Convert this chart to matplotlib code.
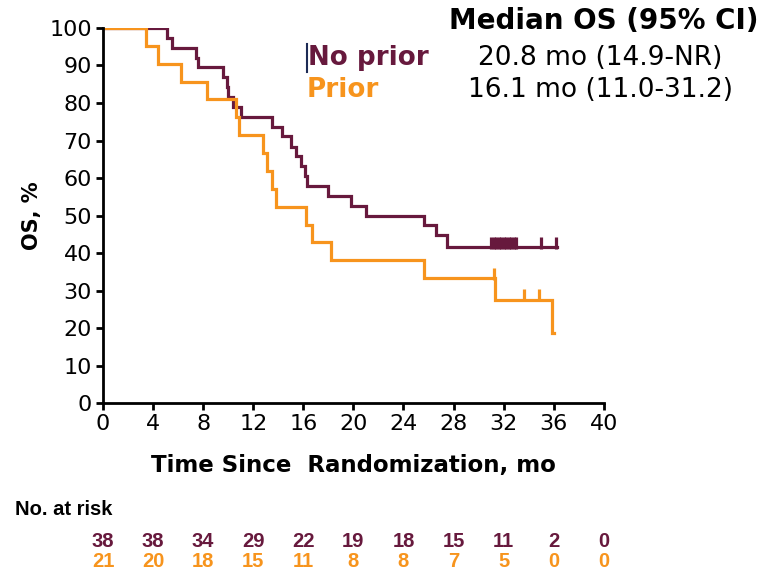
import matplotlib.pyplot as plt
from matplotlib.lines import Line2D
from matplotlib.transforms import blended_transform_factory

plt.rcParams['font.family'] = ['DejaVu Sans']

maroon = '#67193d'
orange = '#f7941d'

# No prior arm (KM steps)
np_t = [0, 5.1, 5.5, 7.4, 7.6, 9.6, 9.9, 10.0, 10.4, 11.0, 13.5, 14.3, 15.0, 15.4,
        15.8, 16.1, 16.3, 18.0, 19.8, 21.0, 25.6, 26.6, 27.5, 36.3]
np_s = [100, 97.4, 94.7, 92.1, 89.5, 86.8, 84.2, 81.6, 78.9, 76.3, 73.7, 71.1, 68.4, 65.8,
        63.2, 60.5, 57.9, 55.3, 52.6, 50.0, 47.4, 44.7, 41.5, 41.5]
np_cens = [31.0, 31.2, 31.4, 31.6, 31.8, 32.0, 32.2, 32.4, 32.6, 32.8, 33.0, 35.0, 36.2]

# Prior arm
pr_t = [0, 3.4, 4.4, 6.2, 8.3, 10.6, 10.9, 12.8, 13.1, 13.5, 13.8, 16.2, 16.7, 18.2,
        25.6, 31.3, 35.9, 36.0]
pr_s = [100, 95.2, 90.5, 85.7, 81.0, 76.2, 71.4, 66.7, 61.9, 57.1, 52.4, 47.6, 42.9, 38.1,
        33.3, 27.5, 18.7, 18.7]
pr_cens = [31.2, 33.6, 34.8]

ticks_x = [0, 4, 8, 12, 16, 20, 24, 28, 32, 36, 40]
risk_np = [38, 38, 34, 29, 22, 19, 18, 15, 11, 2, 0]
risk_pr = [21, 20, 18, 15, 11, 8, 8, 7, 5, 0, 0]

fig = plt.figure(figsize=(7.6, 5.71), dpi=100)
ax = fig.add_axes([0.1355, 0.294, 0.659, 0.657])

ax.step(np_t, np_s, where='post', color=maroon, lw=2.3, solid_joinstyle='miter')
ax.step(pr_t, pr_s, where='post', color=orange, lw=2.3, solid_joinstyle='miter')

def level(ts, ss, x):
    v = ss[0]
    for t, s in zip(ts, ss):
        if t <= x:
            v = s
    return v

ax.plot(np_cens, [level(np_t, np_s, c) + 1.2 for c in np_cens], ls='none',
        marker='|', ms=9, mew=2.3, color=maroon)
ax.plot(pr_cens, [level(pr_t, pr_s, c - 0.05) + 1.2 for c in pr_cens], ls='none',
        marker='|', ms=9, mew=2.3, color=orange)

ax.set_xlim(0, 40)
ax.set_ylim(0, 100)
ax.set_xticks(ticks_x)
ax.set_yticks(range(0, 101, 10))
ax.spines['top'].set_visible(False)
ax.spines['right'].set_visible(False)
for s in ['left', 'bottom']:
    ax.spines[s].set_linewidth(2)
ax.tick_params(width=2, length=5, labelsize=16, pad=3)
ax.set_xlabel('Time Since  Randomization, mo', fontsize=16.5, fontweight='bold', labelpad=14)
ax.set_ylabel('OS, %', fontsize=15, fontweight='bold', labelpad=5)

# legend / medians
fig.text(0.795, 0.963, 'Median OS (95% CI)', ha='center', va='center',
         fontsize=20, fontweight='bold')
fig.text(0.79, 0.898, '20.8 mo (14.9-NR)', ha='center', va='center', fontsize=19)
fig.text(0.79, 0.843, '16.1 mo (11.0-31.2)', ha='center', va='center', fontsize=19)
# small cursor-like bar in front of the "No prior" label
fig.add_artist(Line2D([0.404, 0.404], [0.874, 0.923], color='#1d2b55', lw=1.5,
                      transform=fig.transFigure))
fig.text(0.405, 0.898, 'No prior', ha='left', va='center', fontsize=18.8,
         fontweight='bold', color=maroon)
fig.text(0.403, 0.843, 'Prior', ha='left', va='center', fontsize=18.8,
         fontweight='bold', color=orange)

# risk table
narrow = ['Liberation Sans Narrow', 'Liberation Sans']
tr = blended_transform_factory(ax.transData, fig.transFigure)
fig.text(0.02, 0.107, 'No. at risk', ha='left', va='center', fontsize=14.5,
         fontweight='bold', family=narrow)
for x, a, b in zip(ticks_x, risk_np, risk_pr):
    ax.text(x, 0.052, str(a), transform=tr, ha='center', va='center', fontsize=14.5,
            fontweight='bold', color=maroon, clip_on=False, family=narrow)
    ax.text(x, 0.017, str(b), transform=tr, ha='center', va='center', fontsize=14.5,
            fontweight='bold', color=orange, clip_on=False, family=narrow)

fig.savefig('out.png', dpi=100)
